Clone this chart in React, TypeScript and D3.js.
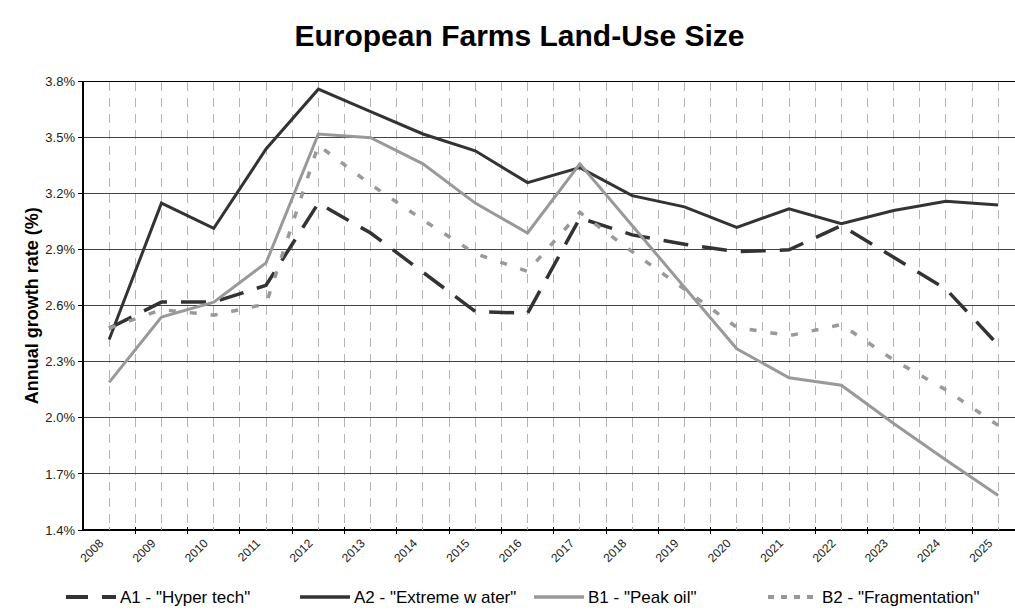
import React from 'react';
import * as d3 from 'd3';

const years = ['2008','2009','2010','2011','2012','2013','2014','2015','2016','2017','2018','2019','2020','2021','2022','2023','2024','2025'];
const a1HyperTech = [2.48, 2.62, 2.62, 2.71, 3.15, 2.99, 2.78, 2.57, 2.56, 3.07, 2.98, 2.93, 2.89, 2.90, 3.03, 2.86, 2.69, 2.39];
const a2ExtremeWater = [2.42, 3.15, 3.015, 3.44, 3.76, 3.64, 3.52, 3.43, 3.26, 3.34, 3.19, 3.13, 3.02, 3.12, 3.04, 3.11, 3.16, 3.14];
const b1PeakOil = [2.19, 2.54, 2.62, 2.83, 3.52, 3.50, 3.36, 3.15, 2.99, 3.36, 3.03, 2.70, 2.37, 2.215, 2.175, 1.97, 1.775, 1.585];
const b2Fragmentation = [2.48, 2.58, 2.55, 2.61, 3.46, 3.25, 3.06, 2.88, 2.785, 3.10, 2.89, 2.69, 2.485, 2.44, 2.50, 2.31, 2.15, 1.96];
const yTicks = [1.4, 1.7, 2.0, 2.3, 2.6, 2.9, 3.2, 3.5, 3.8];

const seriesNames = ['A1 - "Hyper tech"', 'A2 - "Extreme w ater"', 'B1 - "Peak oil"', 'B2 - "Fragmentation"'];

const W = 1015, H = 616;
const L = 83, T = 81.7, B = 530;
const bandW = 52.3;

export default function App() {
  const x = d3.scaleBand<string>().domain(years).range([L, L + years.length * bandW]).padding(0);
  const cx = (yr: string) => (x(yr) as number) + x.bandwidth() / 2;
  const y = d3.scaleLinear().domain([1.4, 3.8]).range([B, T]);
  const line = d3.line<number>().x((_, i) => cx(years[i])).y((v) => y(v));

  const series = [
    { name: seriesNames[0], data: a1HyperTech, color: '#333333', width: 3.5, dash: '25,14', legendDash: '22,14' },
    { name: seriesNames[1], data: a2ExtremeWater, color: '#333333', width: 3, dash: undefined, legendDash: undefined },
    { name: seriesNames[2], data: b1PeakOil, color: '#999999', width: 3, dash: undefined, legendDash: undefined },
    { name: seriesNames[3], data: b2Fragmentation, color: '#999999', width: 3.5, dash: '7,14', legendDash: '6,7' },
  ];

  const halfGrid: number[] = [];
  years.forEach((yr) => {
    halfGrid.push(cx(yr));
    halfGrid.push((x(yr) as number) + x.bandwidth());
  });

  const legendX = d3.scaleBand<string>().domain(seriesNames).range([66, 1002]);

  return (
    <svg width={W} height={H} style={{ position: 'absolute', left: 0, top: 0, background: '#fff' }} fontFamily="'Liberation Sans', Arial, sans-serif">
      <rect x={0} y={0} width={W} height={H} fill="#fff" />
      <text x={W / 2 + 12} y={46} textAnchor="middle" fontSize={30} fontWeight="bold" fill="#000">European Farms Land-Use Size</text>

      {halfGrid.map((gx, i) => (
        <line key={'vg' + i} x1={gx} x2={gx} y1={T} y2={B} stroke="#b4b4b4" strokeWidth={1} strokeDasharray="9,7" shapeRendering="crispEdges" />
      ))}
      {yTicks.map((t) => (
        <line key={'hg' + t} x1={L} x2={W} y1={y(t)} y2={y(t)} stroke={t === 3.8 ? '#000' : '#444'} strokeWidth={1} shapeRendering="crispEdges" />
      ))}

      <line x1={L} x2={L} y1={T} y2={B} stroke="#000" strokeWidth={1.3} shapeRendering="crispEdges" />
      {yTicks.map((t) => (
        <g key={'yt' + t}>
          <line x1={L - 5} x2={L} y1={y(t)} y2={y(t)} stroke="#000" shapeRendering="crispEdges" />
          <text x={L - 8} y={y(t)} dy="0.35em" textAnchor="end" fontSize={13} fill="#222">{t.toFixed(1) + '%'}</text>
        </g>
      ))}
      <text transform={`translate(38,${(T + B) / 2}) rotate(-90)`} textAnchor="middle" fontSize={18} fontWeight="bold" fill="#000">Annual growth rate (%)</text>

      <line x1={L} x2={W} y1={B} y2={B} stroke="#000" strokeWidth={1.3} shapeRendering="crispEdges" />
      {years.map((yr) => (
        <g key={'xt' + yr}>
          <line x1={(x(yr) as number) + x.bandwidth()} x2={(x(yr) as number) + x.bandwidth()} y1={B - 3} y2={B + 4} stroke="#000" shapeRendering="crispEdges" />
          <line x1={cx(yr)} x2={cx(yr)} y1={B - 3} y2={B} stroke="#999" shapeRendering="crispEdges" />
          <text transform={`translate(${cx(yr) - 5},${B + 14}) rotate(-45)`} textAnchor="end" fontSize={12} fill="#222">{yr}</text>
        </g>
      ))}

      {series.map((s) => (
        <path key={s.name} d={line(s.data) || ''} fill="none" stroke={s.color} strokeWidth={s.width} strokeDasharray={s.dash} strokeLinejoin="miter" />
      ))}

      {series.map((s) => {
        const lx = legendX(s.name) as number;
        return (
          <g key={'lg' + s.name}>
            <line x1={lx} x2={lx + 50} y1={597} y2={597} stroke={s.color} strokeWidth={s.width + 0.5} strokeDasharray={s.legendDash} />
            <text x={lx + 54} y={603} fontSize={17} fill="#000">{s.name}</text>
          </g>
        );
      })}
    </svg>
  );
}
